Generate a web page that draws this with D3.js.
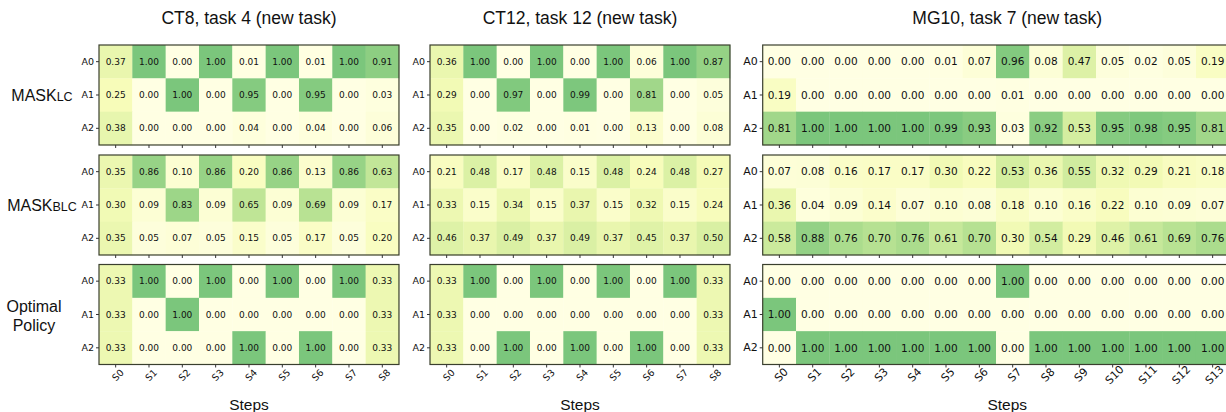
<!DOCTYPE html>
<html>
<head>
<meta charset="utf-8">
<script src="https://cdn.jsdelivr.net/npm/d3@7"></script>
<style>
  body { margin: 0; background: #fff; }
  svg { display: block; }
</style>
</head>
<body>
<div id="chart"></div>
<script>
// ---- data ----
var actions = ["A0", "A1", "A2"];
var steps9 = ["S0", "S1", "S2", "S3", "S4", "S5", "S6", "S7", "S8"];
var steps14 = ["S0", "S1", "S2", "S3", "S4", "S5", "S6", "S7", "S8", "S9", "S10", "S11", "S12", "S13"];

var titles = ["CT8, task 4 (new task)", "CT12, task 12 (new task)", "MG10, task 7 (new task)"];

// CT8
var ct8MaskLC = [
  [0.37, 1.00, 0.00, 1.00, 0.01, 1.00, 0.01, 1.00, 0.91],
  [0.25, 0.00, 1.00, 0.00, 0.95, 0.00, 0.95, 0.00, 0.03],
  [0.38, 0.00, 0.00, 0.00, 0.04, 0.00, 0.04, 0.00, 0.06]
];
var ct8MaskBLC = [
  [0.35, 0.86, 0.10, 0.86, 0.20, 0.86, 0.13, 0.86, 0.63],
  [0.30, 0.09, 0.83, 0.09, 0.65, 0.09, 0.69, 0.09, 0.17],
  [0.35, 0.05, 0.07, 0.05, 0.15, 0.05, 0.17, 0.05, 0.20]
];
var ct8Optimal = [
  [0.33, 1.00, 0.00, 1.00, 0.00, 1.00, 0.00, 1.00, 0.33],
  [0.33, 0.00, 1.00, 0.00, 0.00, 0.00, 0.00, 0.00, 0.33],
  [0.33, 0.00, 0.00, 0.00, 1.00, 0.00, 1.00, 0.00, 0.33]
];

// CT12
var ct12MaskLC = [
  [0.36, 1.00, 0.00, 1.00, 0.00, 1.00, 0.06, 1.00, 0.87],
  [0.29, 0.00, 0.97, 0.00, 0.99, 0.00, 0.81, 0.00, 0.05],
  [0.35, 0.00, 0.02, 0.00, 0.01, 0.00, 0.13, 0.00, 0.08]
];
var ct12MaskBLC = [
  [0.21, 0.48, 0.17, 0.48, 0.15, 0.48, 0.24, 0.48, 0.27],
  [0.33, 0.15, 0.34, 0.15, 0.37, 0.15, 0.32, 0.15, 0.24],
  [0.46, 0.37, 0.49, 0.37, 0.49, 0.37, 0.45, 0.37, 0.50]
];
var ct12Optimal = [
  [0.33, 1.00, 0.00, 1.00, 0.00, 1.00, 0.00, 1.00, 0.33],
  [0.33, 0.00, 0.00, 0.00, 0.00, 0.00, 0.00, 0.00, 0.33],
  [0.33, 0.00, 1.00, 0.00, 1.00, 0.00, 1.00, 0.00, 0.33]
];

// MG10
var mg10MaskLC = [
  [0.00, 0.00, 0.00, 0.00, 0.00, 0.01, 0.07, 0.96, 0.08, 0.47, 0.05, 0.02, 0.05, 0.19],
  [0.19, 0.00, 0.00, 0.00, 0.00, 0.00, 0.00, 0.01, 0.00, 0.00, 0.00, 0.00, 0.00, 0.00],
  [0.81, 1.00, 1.00, 1.00, 1.00, 0.99, 0.93, 0.03, 0.92, 0.53, 0.95, 0.98, 0.95, 0.81]
];
var mg10MaskBLC = [
  [0.07, 0.08, 0.16, 0.17, 0.17, 0.30, 0.22, 0.53, 0.36, 0.55, 0.32, 0.29, 0.21, 0.18],
  [0.36, 0.04, 0.09, 0.14, 0.07, 0.10, 0.08, 0.18, 0.10, 0.16, 0.22, 0.10, 0.09, 0.07],
  [0.58, 0.88, 0.76, 0.70, 0.76, 0.61, 0.70, 0.30, 0.54, 0.29, 0.46, 0.61, 0.69, 0.76]
];
var mg10Optimal = [
  [0.00, 0.00, 0.00, 0.00, 0.00, 0.00, 0.00, 1.00, 0.00, 0.00, 0.00, 0.00, 0.00, 0.00],
  [1.00, 0.00, 0.00, 0.00, 0.00, 0.00, 0.00, 0.00, 0.00, 0.00, 0.00, 0.00, 0.00, 0.00],
  [0.00, 1.00, 1.00, 1.00, 1.00, 1.00, 1.00, 0.00, 1.00, 1.00, 1.00, 1.00, 1.00, 1.00]
];

var columns = [
  { title: titles[0], steps: steps9, rows: [ct8MaskLC, ct8MaskBLC, ct8Optimal] },
  { title: titles[1], steps: steps9, rows: [ct12MaskLC, ct12MaskBLC, ct12Optimal] },
  { title: titles[2], steps: steps14, rows: [mg10MaskLC, mg10MaskBLC, mg10Optimal] }
];

// ---- layout ----
var width = 1226, height = 412;
var cell = 33.33;
var colX = [99, 430, 762.7];
var rowY = [45, 155, 264.5];
var fontSizes = [9, 9, 10.5];

var color = d3.scaleLinear()
    .domain([0, 0.25, 0.5, 0.75, 1])
    .range(["#ffffe3", "#f7fcb9", "#d9f0a3", "#addd8e", "#7bc67c"])
    .clamp(true);

var svg = d3.select("#chart").append("svg")
    .attr("width", width)
    .attr("height", height);

columns.forEach(function(col, ci) {
    var pw = cell * col.steps.length;
    var ph = cell * actions.length;
    var x = d3.scaleBand().domain(col.steps).range([0, pw]);
    var y = d3.scaleBand().domain(actions).range([0, ph]);
    var fs = fontSizes[ci];
    // the MG10 panel runs off the right edge, its titles sit left of centre
    var midX = colX[ci] + (ci === 2 ? 244.5 : pw / 2);

    svg.append("text")
        .attr("x", midX)
        .attr("y", 24)
        .attr("text-anchor", "middle")
        .style("font-family", "Liberation Sans, Arial, sans-serif")
        .style("font-size", "17.5px")
        .attr("fill", "#111")
        .text(col.title);

    col.rows.forEach(function(matrix, ri) {
        var g = svg.append("g")
            .attr("transform", "translate(" + colX[ci] + "," + rowY[ri] + ")");

        var cells = [];
        matrix.forEach(function(row, i) {
            row.forEach(function(v, j) {
                cells.push({ a: actions[i], s: col.steps[j], v: v });
            });
        });

        g.selectAll(".cell")
            .data(cells)
            .enter()
            .append("rect")
            .attr("class", "cell")
            .attr("x", function(d) { return x(d.s); })
            .attr("y", function(d) { return y(d.a); })
            .attr("width", x.bandwidth() + 0.3)
            .attr("height", y.bandwidth() + 0.3)
            .attr("fill", function(d) { return color(d.v); });

        g.selectAll(".val")
            .data(cells)
            .enter()
            .append("text")
            .attr("class", "val")
            .attr("x", function(d) { return x(d.s) + x.bandwidth() / 2; })
            .attr("y", function(d) { return y(d.a) + y.bandwidth() / 2; })
            .attr("dy", "0.35em")
            .attr("text-anchor", "middle")
            .style("font-family", "DejaVu Sans, sans-serif")
            .style("font-size", fs + "px")
            .attr("fill", "#111")
            .text(function(d) { return d.v.toFixed(2); });

        g.append("rect")
            .attr("width", pw)
            .attr("height", ph)
            .attr("fill", "none")
            .attr("stroke", "#3a3f2e")
            .attr("stroke-width", 1.2);

        var yAxis = g.append("g")
            .call(d3.axisLeft(y).tickSize(3).tickPadding(2));
        yAxis.select(".domain").remove();
        yAxis.selectAll("line").attr("stroke", "#333");
        yAxis.selectAll("text")
            .style("font-family", "DejaVu Sans, sans-serif")
            .style("font-size", (fs + 0.5) + "px")
            .attr("fill", "#111");

        var xAxis = g.append("g")
            .attr("transform", "translate(0," + ph + ")")
            .call(d3.axisBottom(x).tickSize(3));
        xAxis.select(".domain").remove();
        xAxis.selectAll("line").attr("stroke", "#333");
        if (ri === 2) {
            xAxis.selectAll("text")
                .style("font-family", "DejaVu Sans, sans-serif")
                .style("font-size", (fs + 0.5) + "px")
                .attr("fill", "#111")
                .attr("text-anchor", "middle")
                .attr("dy", null)
                .attr("y", 0)
                .attr("transform", "translate(2,10.5) rotate(-45)")
                .attr("dominant-baseline", "central");
        } else {
            xAxis.selectAll("text").remove();
        }
    });

    svg.append("text")
        .attr("x", midX)
        .attr("y", 410)
        .attr("text-anchor", "middle")
        .style("font-family", "Liberation Sans, Arial, sans-serif")
        .style("font-size", "15.5px")
        .attr("fill", "#111")
        .text("Steps");
});

// row labels
var labelFont = "Liberation Sans, Arial, sans-serif";
function maskLabel(yPos, sub) {
    var t = svg.append("text")
        .attr("x", 42)
        .attr("y", yPos)
        .attr("text-anchor", "middle")
        .style("font-family", labelFont)
        .attr("fill", "#111");
    t.append("tspan").style("font-size", "16px").text("MASK");
    t.append("tspan").style("font-size", "12.5px").text(sub);
}
maskLabel(101, "LC");
maskLabel(211, "BLC");

svg.append("text")
    .attr("x", 34)
    .attr("y", 312)
    .attr("text-anchor", "middle")
    .style("font-family", labelFont)
    .style("font-size", "16px")
    .attr("fill", "#111")
    .text("Optimal");
svg.append("text")
    .attr("x", 34)
    .attr("y", 331)
    .attr("text-anchor", "middle")
    .style("font-family", labelFont)
    .style("font-size", "16px")
    .attr("fill", "#111")
    .text("Policy");
</script>
</body>
</html>
